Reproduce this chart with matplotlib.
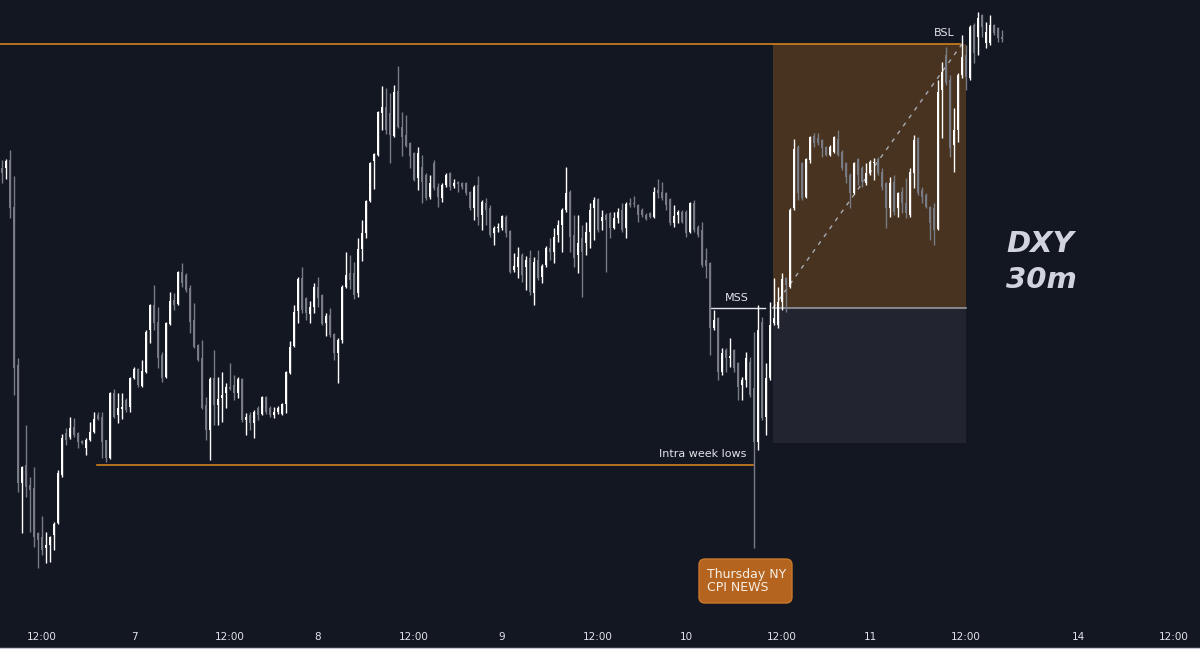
import numpy as np
import matplotlib
matplotlib.use("Agg")
import matplotlib.pyplot as plt
from matplotlib.patches import Rectangle, FancyBboxPatch
from matplotlib.lines import Line2D

# ---------------- data (30m DXY candles) ----------------
open_ = [
    105.32, 105.32, 105.40, 104.93, 103.35, 102.17, 102.35, 102.15, 102.12, 101.67,
    101.63, 101.52, 101.55, 101.65, 101.77, 102.25, 102.67, 102.63, 102.73, 102.67,
    102.59, 102.52, 102.60, 102.68, 102.85, 102.83, 102.60, 102.42, 103.07, 102.85,
    102.91, 103.00, 102.93, 103.22, 103.31, 103.14, 103.28, 103.70, 103.95, 103.78,
    103.45, 103.23, 103.76, 104.00, 103.96, 104.28, 104.25, 104.12, 103.80, 103.55,
    103.42, 102.95, 102.70, 103.22, 102.95, 103.02, 103.07, 103.13, 103.15, 103.07,
    103.21, 102.80, 102.85, 102.77, 102.92, 102.86, 103.03, 102.92, 102.85, 102.88,
    102.86, 102.96, 103.27, 103.54, 103.89, 104.22, 104.02, 103.86, 103.93, 104.13,
    104.05, 103.77, 103.85, 103.66, 103.47, 103.60, 104.13, 104.27, 104.27, 104.07,
    104.51, 104.67, 104.99, 105.39, 105.45, 105.87, 105.93, 105.87, 105.64, 106.09,
    105.73, 105.65, 105.57, 105.47, 105.22, 105.33, 105.25, 105.03, 105.37, 105.13,
    105.02, 105.15, 105.27, 105.14, 105.18, 105.17, 105.17, 105.08, 104.92, 105.15,
    104.85, 104.97, 104.92, 104.67, 104.72, 104.72, 104.83, 104.69, 104.30, 104.33,
    104.45, 104.33, 104.42, 104.07, 104.40, 104.23, 104.35, 104.52, 104.48, 104.65,
    104.75, 104.90, 105.08, 104.65, 104.45, 104.62, 104.57, 104.68, 104.92, 105.01,
    104.79, 104.85, 104.87, 104.72, 104.82, 104.90, 104.72, 104.97, 104.97, 104.95,
    104.90, 104.85, 104.87, 104.83, 105.10, 105.08, 105.07, 105.01, 104.77, 104.85,
    104.88, 104.88, 104.68, 104.97, 104.73, 104.70, 104.40, 104.37, 103.72, 103.82,
    103.28, 103.50, 103.42, 103.50, 103.37, 103.15, 103.20, 103.38, 103.12, 102.58,
    103.78, 102.83, 103.22, 103.77, 103.75, 103.98, 104.22, 104.13, 104.92, 105.53,
    105.37, 105.03, 105.40, 105.64, 105.62, 105.60, 105.53, 105.45, 105.48, 105.61,
    105.48, 105.37, 105.25, 105.07, 105.41, 105.32, 105.17, 105.27, 105.37, 105.41,
    105.28, 105.17, 104.92, 105.18, 104.92, 105.08, 104.97, 104.85, 105.27, 105.62,
    105.10, 105.05, 104.93, 104.92, 104.71, 106.10, 106.45, 106.20, 105.55, 105.70,
    106.25, 106.45, 106.22, 106.75, 106.63, 106.85, 106.57, 106.57, 106.75, 106.72, 106.63,
]
high = [
    105.40, 105.41, 105.50, 105.24, 103.42, 102.34, 102.75, 102.23, 102.33, 101.68,
    101.84, 101.68, 101.64, 101.78, 102.30, 102.66, 102.72, 102.83, 102.82, 102.68,
    102.60, 102.62, 102.78, 102.88, 102.88, 102.88, 102.60, 103.08, 103.11, 103.07,
    103.07, 103.02, 103.23, 103.33, 103.32, 103.40, 103.70, 103.96, 104.15, 103.93,
    103.48, 103.78, 104.08, 104.07, 104.29, 104.37, 104.27, 104.15, 103.97, 103.56,
    103.60, 103.03, 103.23, 103.50, 103.23, 103.28, 103.17, 103.37, 103.25, 103.23,
    103.22, 102.87, 102.88, 102.90, 102.94, 103.04, 103.04, 102.94, 102.93, 102.94,
    102.97, 103.29, 103.59, 103.95, 104.23, 104.33, 104.03, 103.99, 104.17, 104.23,
    104.06, 103.87, 103.92, 103.67, 103.62, 104.15, 104.48, 104.45, 104.38, 104.62,
    104.80, 105.00, 105.38, 105.47, 105.89, 106.14, 106.12, 106.07, 106.15, 106.34,
    105.88, 105.85, 105.58, 105.48, 105.53, 105.45, 105.27, 105.25, 105.40, 105.17,
    105.17, 105.27, 105.28, 105.21, 105.19, 105.18, 105.18, 105.09, 105.15, 105.24,
    105.00, 105.02, 104.95, 104.74, 104.77, 104.85, 104.85, 104.70, 104.47, 104.53,
    104.47, 104.44, 104.50, 104.43, 104.50, 104.36, 104.54, 104.62, 104.72, 104.80,
    104.92, 105.33, 105.10, 104.85, 104.85, 104.75, 104.78, 104.97, 105.03, 105.02,
    104.90, 104.87, 104.88, 104.88, 104.92, 104.97, 104.98, 105.02, 105.04, 104.96,
    104.92, 104.87, 104.88, 105.13, 105.21, 105.18, 105.08, 105.02, 104.95, 104.90,
    104.90, 104.90, 104.98, 105.00, 104.75, 104.78, 104.52, 104.38, 103.90, 103.83,
    103.52, 103.52, 103.62, 103.51, 103.38, 103.23, 103.48, 103.43, 103.68, 103.95,
    103.83, 103.37, 103.98, 104.22, 104.13, 104.27, 104.23, 104.92, 105.61, 105.55,
    105.38, 105.42, 105.64, 105.67, 105.67, 105.61, 105.54, 105.55, 105.64, 105.70,
    105.50, 105.38, 105.27, 105.38, 105.42, 105.34, 105.37, 105.40, 105.42, 105.43,
    105.32, 105.18, 105.23, 105.25, 105.08, 105.13, 105.22, 105.32, 105.65, 105.63,
    105.13, 105.07, 104.94, 104.97, 106.20, 106.38, 106.53, 106.25, 105.92, 106.27,
    106.65, 106.55, 106.75, 106.77, 106.88, 106.86, 106.78, 106.85, 106.76, 106.73, 106.70,
]
low = [
    105.17, 105.21, 104.82, 103.05, 102.08, 101.67, 102.03, 101.68, 101.53, 101.32,
    101.45, 101.37, 101.38, 101.50, 101.76, 102.23, 102.55, 102.61, 102.63, 102.52,
    102.56, 102.45, 102.59, 102.67, 102.80, 102.42, 102.38, 102.41, 102.82, 102.77,
    102.81, 102.88, 102.88, 103.21, 103.13, 103.13, 103.27, 103.57, 103.70, 103.32,
    103.18, 103.22, 103.75, 103.90, 103.95, 104.13, 104.08, 103.67, 103.52, 103.39,
    102.91, 102.60, 102.40, 102.75, 102.75, 102.78, 102.92, 103.10, 103.00, 103.02,
    102.78, 102.65, 102.70, 102.62, 102.80, 102.85, 102.86, 102.83, 102.82, 102.86,
    102.85, 102.87, 103.26, 103.53, 103.77, 103.87, 103.80, 103.77, 103.87, 103.93,
    103.75, 103.64, 103.63, 103.40, 103.17, 103.57, 104.12, 104.11, 104.01, 104.03,
    104.39, 104.62, 104.98, 105.11, 105.44, 105.70, 105.66, 105.37, 105.63, 105.72,
    105.44, 105.53, 105.32, 105.19, 105.10, 104.97, 105.00, 105.01, 105.10, 104.93,
    104.98, 105.13, 105.10, 105.12, 105.08, 105.11, 105.05, 104.90, 104.80, 104.75,
    104.70, 104.75, 104.63, 104.55, 104.68, 104.70, 104.63, 104.27, 104.28, 104.22,
    104.18, 104.10, 104.05, 103.95, 104.20, 104.17, 104.33, 104.40, 104.37, 104.58,
    104.48, 104.88, 104.48, 104.33, 104.27, 104.03, 104.45, 104.52, 104.60, 104.68,
    104.70, 104.28, 104.62, 104.71, 104.77, 104.68, 104.62, 104.93, 104.93, 104.78,
    104.83, 104.80, 104.82, 104.82, 105.02, 105.00, 104.90, 104.75, 104.73, 104.77,
    104.77, 104.63, 104.67, 104.68, 104.63, 104.33, 104.22, 103.45, 103.70, 103.20,
    103.25, 103.28, 103.33, 103.28, 103.00, 103.00, 103.13, 103.03, 101.52, 102.50,
    102.80, 102.65, 103.20, 103.75, 103.72, 103.90, 103.88, 104.12, 104.90, 105.00,
    105.00, 105.02, 105.37, 105.53, 105.55, 105.43, 105.44, 105.44, 105.47, 105.44,
    105.30, 105.17, 104.92, 105.06, 105.15, 105.13, 105.15, 105.25, 105.20, 105.25,
    105.10, 104.72, 104.83, 104.85, 104.83, 104.87, 104.82, 104.83, 105.12, 105.05,
    104.97, 104.92, 104.60, 104.55, 104.70, 105.62, 106.15, 105.43, 105.28, 105.58,
    106.22, 106.10, 106.20, 106.37, 106.45, 106.63, 106.52, 106.55, 106.65, 106.58, 106.58,
]
close = [
    105.27, 105.39, 104.92, 103.32, 102.17, 102.33, 102.13, 102.10, 101.63, 101.60,
    101.50, 101.55, 101.63, 101.76, 102.27, 102.62, 102.60, 102.72, 102.65, 102.58,
    102.57, 102.60, 102.68, 102.81, 102.81, 102.58, 102.42, 103.07, 102.83, 102.92,
    102.93, 102.90, 103.22, 103.31, 103.15, 103.29, 103.68, 103.95, 103.77, 103.42,
    103.22, 103.77, 103.99, 103.95, 104.28, 104.17, 104.10, 103.78, 103.53, 103.40,
    102.92, 102.70, 103.21, 102.95, 103.01, 103.05, 103.13, 103.11, 103.07, 103.21,
    102.80, 102.83, 102.77, 102.88, 102.85, 103.03, 102.88, 102.85, 102.88, 102.92,
    102.96, 103.28, 103.53, 103.88, 104.21, 103.90, 103.87, 103.93, 104.13, 104.02,
    103.76, 103.84, 103.65, 103.47, 103.60, 104.13, 104.25, 104.20, 104.05, 104.51,
    104.67, 104.99, 105.37, 105.46, 105.88, 105.93, 105.70, 105.65, 106.08, 105.73,
    105.63, 105.54, 105.44, 105.20, 105.47, 105.18, 105.02, 105.17, 105.12, 105.03,
    105.15, 105.25, 105.13, 105.17, 105.16, 105.13, 105.07, 104.92, 105.13, 104.83,
    104.98, 104.90, 104.65, 104.72, 104.73, 104.84, 104.67, 104.28, 104.34, 104.43,
    104.25, 104.40, 104.08, 104.38, 104.22, 104.34, 104.52, 104.48, 104.63, 104.75,
    104.90, 105.07, 104.63, 104.42, 104.57, 104.48, 104.68, 104.90, 105.00, 104.70,
    104.83, 104.80, 104.72, 104.82, 104.88, 104.70, 104.96, 104.95, 104.96, 104.85,
    104.85, 104.81, 104.83, 105.08, 105.07, 105.02, 104.95, 104.77, 104.84, 104.88,
    104.78, 104.67, 104.97, 104.70, 104.65, 104.35, 104.34, 103.72, 103.80, 103.28,
    103.47, 103.42, 103.44, 103.32, 103.13, 103.20, 103.42, 103.05, 102.58, 103.70,
    102.82, 103.22, 103.75, 103.82, 103.98, 104.21, 104.15, 104.90, 105.51, 105.07,
    105.02, 105.41, 105.63, 105.57, 105.57, 105.52, 105.45, 105.53, 105.63, 105.45,
    105.32, 105.23, 105.07, 105.37, 105.25, 105.18, 105.27, 105.38, 105.38, 105.27,
    105.13, 104.92, 105.17, 104.88, 105.07, 104.97, 104.87, 105.28, 105.60, 105.07,
    105.03, 104.93, 104.77, 104.70, 106.08, 106.28, 106.17, 105.52, 105.70, 106.25,
    106.43, 106.23, 106.73, 106.47, 106.82, 106.73, 106.68, 106.75, 106.67, 106.62, 106.61,
]

tick_labels = ["12:00", "7", "12:00", "8", "12:00", "9", "12:00", "10",
               "12:00", "11", "12:00", "14", "12:00"]
tick_bars = [10, 33, 57, 79, 103, 125, 149, 171, 195, 217, 241, 269, 293]

bsl_level = 106.56        # buy-side liquidity
week_low_level = 102.35   # intra week lows
mss_level = 103.92        # market structure shift
entry_level = 103.92
target_level = 106.56
stop_level = 102.57

# ---------------- style ----------------
BG = "#131722"
UP = "#ffffff"
DOWN = "#787b86"
ORANGE = "#d0801f"
TXT = "#e3e5ea"

fig = plt.figure(figsize=(12, 6.49), dpi=100)
fig.patch.set_facecolor(BG)
ax = fig.add_axes([0, 24 / 649, 1, 625 / 649])
ax.set_facecolor(BG)

o = np.array(open_); h = np.array(high); l = np.array(low); c = np.array(close)
x = np.arange(len(c))
cols = np.where(c >= o, UP, DOWN)

# long position tool (drawn under candles)
left_bar, right_bar = 192.75, 241
ax.add_patch(Rectangle((left_bar, entry_level), right_bar - left_bar,
                       target_level - entry_level, facecolor="#47331f",
                       edgecolor="none", zorder=1))
ax.add_patch(Rectangle((left_bar, stop_level), right_bar - left_bar,
                       entry_level - stop_level, facecolor="#22252f",
                       edgecolor="none", zorder=1))
ax.plot([left_bar, right_bar], [entry_level, entry_level], color="#9598a1",
        lw=1.2, zorder=2)
ax.plot([left_bar, 240], [entry_level, target_level], color="#a9acb5",
        lw=1.0, ls=(0, (3, 4)), zorder=2)

# candles
ax.vlines(x, l, h, colors=cols, lw=1.0, zorder=3)
heights = np.maximum(np.abs(c - o), 0.012)
ax.bar(x, heights, bottom=np.minimum(o, c), width=0.72, color=cols,
       linewidth=0, zorder=4)

# levels
ax.plot([-0.5, 239.5], [bsl_level, bsl_level], color=ORANGE, lw=1.2, zorder=2)
ax.plot([23.75, 187.75], [week_low_level, week_low_level], color=ORANGE,
        lw=1.2, zorder=2)
ax.plot([177.25, 190.75], [mss_level, mss_level], color=TXT, lw=1.0, zorder=2)

ax.text(235.5, 106.67, "BSL", color=TXT, fontsize=8, ha="center",
        va="center", zorder=6)
ax.text(186, 102.46, "Intra week lows", color=TXT, fontsize=8, ha="right",
        va="center", zorder=6)
ax.text(183.75, 104.02, "MSS", color=TXT, fontsize=8, ha="center",
        va="center", zorder=6)

ax.text(251.0, 104.56, "DXY", color="#d1d4dc", fontsize=21, fontweight="bold",
        style="italic", ha="left", va="center")
ax.text(251.0, 104.20, "30m", color="#d1d4dc", fontsize=21, fontweight="bold",
        style="italic", ha="left", va="center")

# news label
ax.add_patch(FancyBboxPatch((174.25, 100.97), 23.25, 0.44,
                            boxstyle="round,pad=0,rounding_size=1.5",
                            mutation_aspect=0.04, facecolor="#b4641e",
                            edgecolor="#c9772c", lw=1, zorder=5))
ax.text(176.3, 101.19, "Thursday NY\nCPI NEWS", color="#f7efe6", fontsize=9,
        ha="left", va="center", linespacing=1.0, zorder=6)

ax.set_xlim(-0.5, 299.5)
ax.set_ylim(100.75, 107.0)
ax.set_xticks(tick_bars, tick_labels)
ax.set_yticks([])
ax.tick_params(axis="x", length=0, pad=5, labelcolor=TXT, labelsize=7.5)
for s in ax.spines.values():
    s.set_visible(False)

fig.add_artist(Line2D([0, 1], [0.8 / 649, 0.8 / 649], transform=fig.transFigure,
                      color="#c5c8d0", lw=1))

fig.savefig("out.png", dpi=100, facecolor=BG)
